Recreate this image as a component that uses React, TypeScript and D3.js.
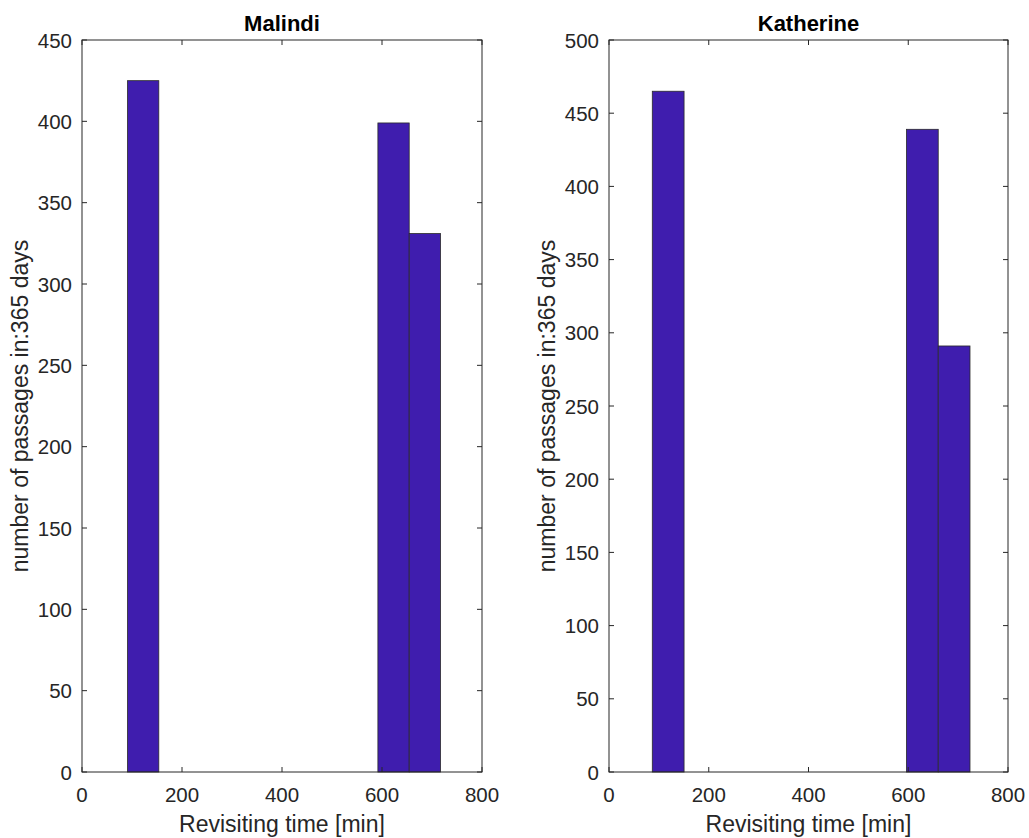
import React, { useEffect, useRef } from "react";
import * as d3 from "d3";

// bin edges and counts
const malindiEdges = [91, 153.6, 216.2, 278.8, 341.4, 404, 466.6, 529.2, 591.8, 654.4, 717];
const malindiCounts = [425, 0, 0, 0, 0, 0, 0, 0, 399, 331];

const katherineEdges = [86.8, 150.5, 214.2, 277.9, 341.6, 405.3, 469, 532.7, 596.4, 660.1, 723.8];
const katherineCounts = [465, 0, 0, 0, 0, 0, 0, 0, 439, 291];

const xTicks = [0, 200, 400, 600, 800];
const malindiYTicks = [0, 50, 100, 150, 200, 250, 300, 350, 400, 450];
const katherineYTicks = [0, 50, 100, 150, 200, 250, 300, 350, 400, 450, 500];

const panels = [
  { title: "Malindi", edges: malindiEdges, counts: malindiCounts, yTicks: malindiYTicks, yMax: 450, left: 82, right: 482 },
  { title: "Katherine", edges: katherineEdges, counts: katherineCounts, yTicks: katherineYTicks, yMax: 500, left: 609, right: 1008 },
];

const FONT = "'Liberation Sans', Arial, Helvetica, sans-serif";
const AXIS = "#262626";
const BAR = "#3F1DAE";

export default function App() {
  const svgRef = useRef<SVGSVGElement | null>(null);

  useEffect(() => {
    const svg = d3.select(svgRef.current);
    svg.selectAll("*").remove();

    const top = 40;
    const bottom = 772;
    const tickLen = 5;

    panels.forEach((p) => {
      const x = d3.scaleLinear().domain([0, 800]).range([p.left, p.right]);
      const y = d3.scaleLinear().domain([0, p.yMax]).range([bottom, top]);
      const g = svg.append("g");

      // bars (empty bins draw nothing)
      const bins = p.counts.map((c, i) => ({ x0: p.edges[i], x1: p.edges[i + 1], c }));
      g.selectAll("rect.bar")
        .data(bins.filter((b) => b.c > 0))
        .enter()
        .append("rect")
        .attr("class", "bar")
        .attr("x", (d) => x(d.x0))
        .attr("y", (d) => y(d.c))
        .attr("width", (d) => x(d.x1) - x(d.x0))
        .attr("height", (d) => bottom - y(d.c))
        .attr("fill", BAR)
        .attr("stroke", "#2a2a2a")
        .attr("stroke-width", 0.8);

      // box
      g.append("rect")
        .attr("x", p.left)
        .attr("y", top)
        .attr("width", p.right - p.left)
        .attr("height", bottom - top)
        .attr("fill", "none")
        .attr("stroke", AXIS)
        .attr("stroke-width", 1);

      // x ticks (bottom and top, inward)
      xTicks.forEach((t) => {
        g.append("line").attr("x1", x(t)).attr("x2", x(t)).attr("y1", bottom).attr("y2", bottom - tickLen).attr("stroke", AXIS);
        g.append("line").attr("x1", x(t)).attr("x2", x(t)).attr("y1", top).attr("y2", top + tickLen).attr("stroke", AXIS);
        g.append("text")
          .attr("x", x(t))
          .attr("y", bottom + 30)
          .attr("text-anchor", "middle")
          .attr("font-family", FONT)
          .attr("font-size", 20.5)
          .attr("fill", AXIS)
          .text(t);
      });

      // y ticks (left and right, inward)
      p.yTicks.forEach((t) => {
        g.append("line").attr("x1", p.left).attr("x2", p.left + tickLen).attr("y1", y(t)).attr("y2", y(t)).attr("stroke", AXIS);
        g.append("line").attr("x1", p.right).attr("x2", p.right - tickLen).attr("y1", y(t)).attr("y2", y(t)).attr("stroke", AXIS);
        g.append("text")
          .attr("x", p.left - 10)
          .attr("y", y(t) + 7.5)
          .attr("text-anchor", "end")
          .attr("font-family", FONT)
          .attr("font-size", 20.5)
          .attr("fill", AXIS)
          .text(t);
      });

      // labels
      const cx = (p.left + p.right) / 2;
      g.append("text")
        .attr("x", cx)
        .attr("y", 31)
        .attr("text-anchor", "middle")
        .attr("font-family", FONT)
        .attr("font-size", 22)
        .attr("font-weight", "bold")
        .attr("fill", "#000")
        .text(p.title);

      g.append("text")
        .attr("x", cx)
        .attr("y", bottom + 60)
        .attr("text-anchor", "middle")
        .attr("font-family", FONT)
        .attr("font-size", 23)
        .attr("fill", AXIS)
        .text("Revisiting time [min]");

      g.append("text")
        .attr("transform", `translate(${p.left - 54},${(top + bottom) / 2}) rotate(-90)`)
        .attr("text-anchor", "middle")
        .attr("font-family", FONT)
        .attr("font-size", 23)
        .attr("fill", AXIS)
        .text("number of passages in:365 days");
    });
  }, []);

  return (
    <svg
      ref={svgRef}
      width={1029}
      height={838}
      style={{ position: "absolute", left: 0, top: 0, background: "#fff" }}
    />
  );
}
